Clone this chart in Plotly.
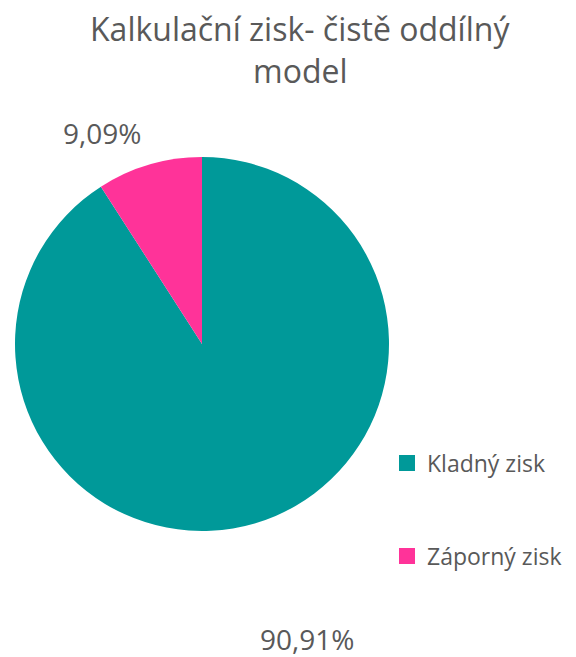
import plotly.graph_objects as go

labels = ["Kladný zisk", "Záporný zisk"]
values = [90.91, 9.09]
colors = ["#009999", "#FF3399"]
title_lines = ["Kalkulační zisk- čistě oddílný", "model"]

# page body adds an 8px offset; work in reference pixels and convert
OFF = 8
W, H = 576 - OFF, 657 - OFF
FONT = "Open Sans, sans-serif"
GRAY = "#595959"

def px(x):
    return (x - OFF) / W

def py(y):
    return 1 - (y - OFF) / H

def fmt(v):
    return f"{v:.2f}".replace(".", ",") + "%"

fig = go.Figure()
fig.add_trace(go.Pie(
    labels=labels, values=values, sort=False, direction="clockwise", rotation=0,
    marker=dict(colors=colors, line=dict(width=0)),
    textinfo="none", hoverinfo="label+percent", showlegend=False,
    domain=dict(x=[px(15), px(389)], y=[py(531), py(157)]),
))

legend_y = [463, 556]
for i, (lab, col) in enumerate(zip(labels, colors)):
    lname = "legend" if i == 0 else f"legend{i+1}"
    fig.add_trace(go.Scatter(
        x=[None], y=[None], mode="markers", name=lab,
        marker=dict(symbol="square", size=17, color=col),
        legend=lname, showlegend=True,
    ))

leg_common = dict(x=px(387), xanchor="left", yanchor="middle",
                  font=dict(family=FONT, size=23, color=GRAY),
                  bgcolor="rgba(0,0,0,0)", itemclick=False)
fig.update_layout(
    legend=dict(y=py(legend_y[0]), **leg_common),
    legend2=dict(y=py(legend_y[1]), **leg_common),
)

# percent labels
label_pos = [(307, 639), (102, 133)]
for v, (x, y) in zip(values, label_pos):
    fig.add_annotation(x=px(x), y=py(y), xref="paper", yref="paper", text=fmt(v),
                       showarrow=False, xanchor="center", yanchor="middle",
                       font=dict(family=FONT, size=28, color=GRAY))

# title (two centred lines)
for line, yc in zip(title_lines, [29, 70]):
    fig.add_annotation(x=px(300), y=py(yc), xref="paper", yref="paper", text=line,
                       showarrow=False, xanchor="center", yanchor="middle",
                       font=dict(family=FONT, size=32, color=GRAY))

fig.update_layout(
    width=W, height=H,
    margin=dict(l=0, r=0, t=0, b=0),
    paper_bgcolor="white", plot_bgcolor="white",
    xaxis=dict(visible=False), yaxis=dict(visible=False),
)

fig.write_html("out.html")
